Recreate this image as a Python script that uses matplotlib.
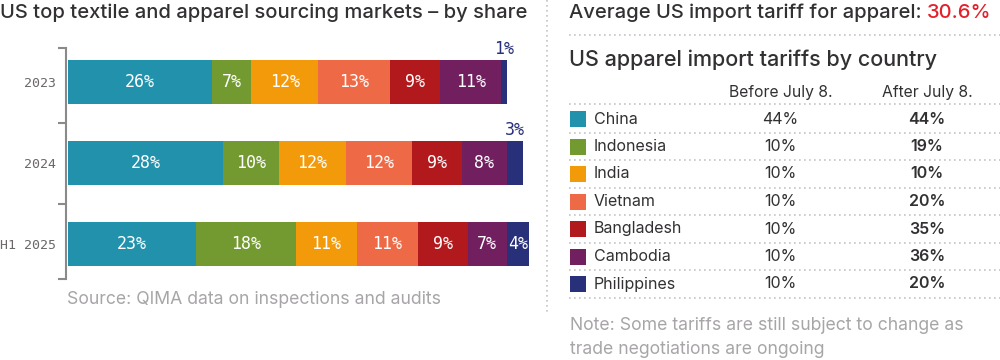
import matplotlib
matplotlib.use('Agg')
import matplotlib.pyplot as plt
from matplotlib.patches import Rectangle

# --- data ---
periods = ['2023', '2024', 'H1 2025']
countries = ['China', 'Indonesia', 'India', 'Vietnam', 'Bangladesh', 'Cambodia', 'Philippines']
colors = ['#2191AC', '#739A30', '#F39A0A', '#EE6946', '#B2191D', '#711F5F', '#29307A']
share_2023 = [26, 7, 12, 13, 9, 11, 1]
share_2024 = [28, 10, 12, 12, 9, 8, 3]
share_2025 = [23, 18, 11, 11, 9, 7, 4]
tariff_before = ['44%', '10%', '10%', '10%', '10%', '10%', '10%']
tariff_after = ['44%', '19%', '10%', '20%', '35%', '36%', '20%']
avg_tariff = '30.6%'

SANS = ['Inter', 'DejaVu Sans']
MONO = ['DejaVu Sans Mono']
DARK = '#333033'
GREY = '#a8a5a8'
DOT = '#c4c4c4'

fig = plt.figure(figsize=(10, 3.6), dpi=100)

# background axes in pixel coordinates for the text panel
bg = fig.add_axes([0, 0, 1, 1])
bg.set_xlim(0, 1000)
bg.set_ylim(360, 0)
bg.axis('off')

# --- left: stacked bars ---
ax = fig.add_axes([0.066, 1 - 279 / 360, 0.479, (279 - 48) / 360])
shares = [share_2023, share_2024, share_2025]
bar_h = 0.54
for i, row in enumerate(shares):
    left = 0
    for j, v in enumerate(row):
        ax.barh(i, v, left=left, height=bar_h, color=colors[j], linewidth=0)
        if v >= 4:
            ax.text(left + v / 2, i, f'{v}%', ha='center', va='center',
                    color='white', fontsize=12, family=MONO)
        else:
            ax.text(left + v / 2, i - bar_h / 2 - 0.14, f'{v}%', ha='center', va='center',
                    color=colors[j], fontsize=12, family=MONO)
        left += v

ax.set_xlim(-0.36, 85.9)
ax.set_ylim(2.43, -0.42)
ax.set_yticks(range(len(periods)))
ax.set_yticklabels(periods, family=MONO, fontsize=9.5, color='#6b676b')
ax.tick_params(axis='y', which='major', length=0, pad=7)
ax.set_yticks([-0.42, 0.5, 1.5, 2.43], minor=True)
ax.tick_params(axis='y', which='minor', length=6, width=1.5, color='#8a8a8a')
ax.set_xticks([])
for s in ['top', 'right', 'bottom']:
    ax.spines[s].set_visible(False)
ax.spines['left'].set_color('#8a8a8a')
ax.spines['left'].set_linewidth(1.5)
ax.set_facecolor('none')

bg.text(0, 13, 'US top textile and apparel sourcing markets \u2013 by share', fontsize=14.5,
        family=SANS, weight='medium', color=DARK, ha='left', va='center')
bg.text(67, 300, 'Source: QIMA data on inspections and audits', fontsize=12.7,
        family=SANS, color=GREY, ha='left', va='center')

# vertical separator
bg.plot([547, 547], [0, 315], color=DOT, linestyle=(0, (1, 2)), linewidth=1.2)

# --- right: tariff table ---
t1 = bg.text(569, 13, 'Average US import tariff for apparel: ', fontsize=14.5,
             family=SANS, weight='medium', color=DARK, ha='left', va='center')
fig.canvas.draw()
bb = t1.get_window_extent()
x_end = bg.transData.inverted().transform((bb.x1, bb.y0))[0]
bg.text(x_end, 13, avg_tariff, fontsize=14.5, family=SANS, weight='medium',
        color='#E3212B', ha='left', va='center')
bg.plot([569, 1000], [35, 35], color=DOT, linestyle=(0, (1, 2)), linewidth=1.2)

bg.text(569, 60, 'US apparel import tariffs by country', fontsize=15.5,
        family=SANS, weight='medium', color=DARK, ha='left', va='center')
bg.text(781, 92, 'Before July 8.', fontsize=11.3, family=SANS, color=DARK, ha='center', va='center')
bg.text(927, 92, 'After July 8.', fontsize=11.3, family=SANS, color=DARK, ha='center', va='center')
bg.plot([569, 1000], [103.5, 103.5], color=DOT, linestyle=(0, (1, 2)), linewidth=1.2)

row_h = 27.5
for k, c in enumerate(countries):
    y = 119 + k * row_h
    bg.add_patch(Rectangle((570, y - 8), 16, 16, color=colors[k], linewidth=0))
    bg.text(594, y, c, fontsize=11.5, family=SANS, color=DARK, ha='left', va='center')
    bg.text(780, y, tariff_before[k], fontsize=11.5, family=SANS, color=DARK, ha='center', va='center')
    bg.text(927, y, tariff_after[k], fontsize=11.5, family=SANS, color=DARK, weight='semibold',
            ha='center', va='center')
    bg.plot([569, 1000], [y + 13.5, y + 13.5], color=DOT, linestyle=(0, (1, 2)), linewidth=1.2)

bg.text(570, 326, 'Note: Some tariffs are still subject to change as', fontsize=12.7,
        family=SANS, color=GREY, ha='left', va='center')
bg.text(570, 350, 'trade negotiations are ongoing', fontsize=12.7,
        family=SANS, color=GREY, ha='left', va='center')

fig.savefig('out.png', dpi=100)
